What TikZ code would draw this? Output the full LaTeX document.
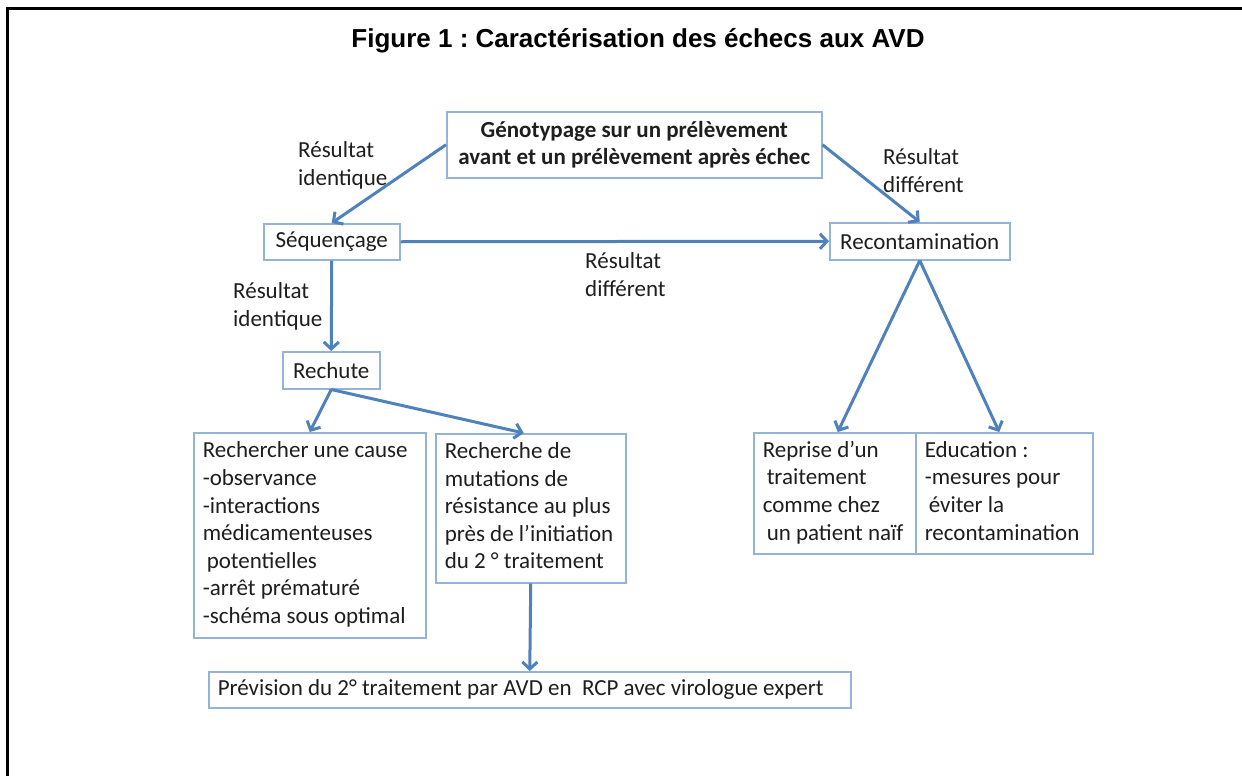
\documentclass[tikz,border=0pt]{standalone}
\usepackage{fontspec}
\setmainfont{Carlito}
\newfontfamily\titlefont{Liberation Sans}
\usetikzlibrary{arrows.meta}
\definecolor{boxblue}{HTML}{95B3D7}
\definecolor{arrowblue}{HTML}{4F81BD}
\definecolor{ink}{HTML}{1E1E1E}
\frenchspacing
\newcommand\bodysize{\fontsize{23}{27.6}\selectfont}
\newcommand\indentsp{\hspace*{4pt}}
% left-aligned block of explicit lines, set in a box of fixed width
\newcommand\linesin[2]{\makebox[#1][l]{\begin{tabular}{@{}l@{}}#2\end{tabular}}}

\begin{document}
\begin{tikzpicture}[x=1pt,y=-1pt,
  box/.style={draw=boxblue,line width=1.5pt,fill=white,text=ink,font=\bodysize,
              inner xsep=9pt,inner ysep=0pt,anchor=north west},
  centerbox/.style={box,align=center},
  link/.style={draw=arrowblue,line width=3pt,-{Straight Barb[length=7pt,width=15pt]}},
  lbl/.style={text=ink,font=\bodysize,align=left,inner sep=0pt,anchor=base west}]

\useasboundingbox (0,0) rectangle (1242,776);
\fill[white] (0,0) rectangle (1242,776);

% outer frame of the figure
\draw[line width=3pt] (7.5,776) -- (7.5,8.5) -- (1242,8.5);

% title
\node[font=\titlefont\bfseries\fontsize{26}{30}\selectfont,anchor=base] (title) at (638,48)
  {Figure 1 : Caractérisation des échecs aux AVD};

% boxes
\node[centerbox,font=\bodysize\bfseries,minimum width=375pt,minimum height=66pt] (geno) at (446,111)
  {Génotypage sur un prélèvement\\avant et un prélèvement après échec};
\node[centerbox,minimum width=136pt,minimum height=36pt] (seq) at (263,223) {Séquençage};
\node[centerbox,minimum width=180pt,minimum height=37pt] (recont) at (829,222) {Recontamination};
\node[centerbox,minimum width=97pt,minimum height=37pt] (rechute) at (282,351) {Rechute};

\node[box,minimum width=232pt,minimum height=205pt] (cause) at (193,432)
  {\linesin{214pt}{Rechercher une cause\\-observance\\-interactions\\médicamenteuses\\\indentsp potentielles\\-arrêt prématuré\\-schéma sous optimal}};
\node[box,minimum width=190pt,minimum height=149pt] (mut) at (435,433)
  {\linesin{172pt}{Recherche de\\mutations de\\résistance au plus\\près de l’initiation\\du 2 ° traitement}};
\node[box,minimum width=162pt,minimum height=121pt] (repr) at (753,432)
  {\linesin{144pt}{Reprise d’un\\\indentsp traitement\\comme chez\\\indentsp un patient naïf}};
\node[box,minimum width=177pt,minimum height=121pt] (educ) at (915,432)
  {\linesin{159pt}{Education :\\-mesures pour\\\indentsp éviter la\\recontamination}};
\node[box,minimum width=642pt,minimum height=36pt] (prev) at (208,671)
  {\linesin{624pt}{Prévision du 2° traitement par AVD en\ \ RCP avec virologue expert}};

% edge labels (anchored on the baseline of their last line)
\node[lbl] (l1) at (298,185) {Résultat\\identique};
\node[lbl] (l2) at (883,192) {Résultat\\différent};
\node[lbl] (l3) at (585,296) {Résultat\\différent};
\node[lbl] (l4) at (233,326) {Résultat\\identique};

% connectors
\draw[link] (geno.west) -- (seq.north);
\draw[link] (geno.east) -- (recont.north);
\draw[link] (seq.east) -- (recont.west);
\draw[link] (seq.south) -- (rechute.north);
\draw[link] (rechute.south) -- (cause.north);
\draw[link] (rechute.south) -- ([xshift=-7pt]mut.north);
\draw[link] (mut.south) -- (prev.north);
\draw[link] (recont.south) -- ([xshift=3pt]repr.north);
\draw[link] (recont.south) -- ([xshift=-5pt]educ.north);
\end{tikzpicture}
\end{document}
